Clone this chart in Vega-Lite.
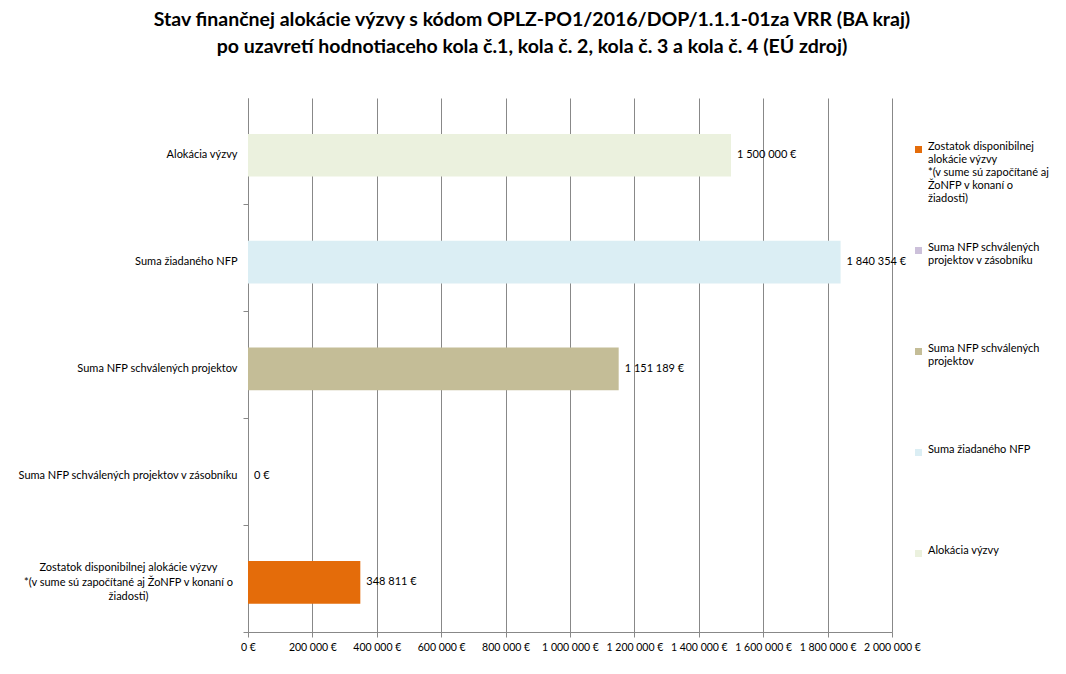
{
  "$schema": "https://vega.github.io/schema/vega-lite/v6.json",
  "autosize": {"type": "none"},
  "padding": {"left": 248, "top": 98, "right": 174, "bottom": 42},
  "width": 644,
  "height": 534,
  "background": "white",
  "title": {
    "text": ["Stav finančnej alokácie výzvy s kódom OPLZ-PO1/2016/DOP/1.1.1-01za VRR (BA kraj)", "po uzavretí hodnotiaceho kola č.1, kola č. 2, kola č. 3 a kola č. 4 (EÚ zdroj)"],
    "font": "Lato",
    "fontSize": 19.5,
    "fontWeight": "bold",
    "color": "#000000",
    "anchor": "middle",
    "dx": -38,
    "offset": 41,
    "lineHeight": 27
  },
  "data": {
    "values": [
      {"kategoria": "Alokácia výzvy", "hodnota": 1500000},
      {"kategoria": "Suma žiadaného NFP", "hodnota": 1840354},
      {"kategoria": "Suma NFP schválených projektov", "hodnota": 1151189},
      {"kategoria": "Suma NFP schválených projektov v zásobníku", "hodnota": 0},
      {"kategoria": "Zostatok disponibilnej alokácie výzvy *(v sume sú započítané aj ŽoNFP v konaní o žiadosti)", "hodnota": 348811}
    ]
  },
  "layer": [
    {
      "mark": {"type": "bar"},
      "encoding": {
        "y": {
          "field": "kategoria",
          "type": "nominal",
          "sort": null,
          "scale": {"paddingInner": 0.6, "paddingOuter": 0.3, "align": 0.56},
          "axis": {
            "title": null,
            "ticks": false,
            "tickSize": 0,
            "domain": true,
            "domainColor": "#888888",
            "labelFont": "Lato",
            "labelFontSize": 11,
            "labelColor": "#000000",
            "labelLimit": 400,
            "labelLineHeight": 14.5,
            "labelAlign": {"condition": {"test": "indexof(datum.value,'Zostatok')==0", "value": "center"}, "value": "right"},
            "labelPadding": {"condition": {"test": "indexof(datum.value,'Zostatok')==0", "value": 120}, "value": 11},
            "labelOffset": {"condition": {"test": "indexof(datum.value,'Zostatok')==0", "value": -14}, "value": 0},
            "labelExpr": "indexof(datum.label,'Zostatok')==0 ? ['Zostatok disponibilnej alokácie výzvy','*(v sume sú započítané aj ŽoNFP v konaní o','žiadosti)'] : datum.label"
          }
        },
        "x": {
          "field": "hodnota",
          "type": "quantitative",
          "scale": {"domain": [0, 2000000], "nice": false},
          "axis": {
            "title": null,
            "values": [0, 200000, 400000, 600000, 800000, 1000000, 1200000, 1400000, 1600000, 1800000, 2000000],
            "format": "$,.0f",
            "grid": true,
            "gridColor": "#888888",
            "domainColor": "#888888",
            "tickColor": "#888888",
            "tickSize": 5,
            "labelFont": "Lato",
            "labelFontSize": 10.5,
            "labelColor": "#000000",
            "labelPadding": 5,
            "labelFlush": false
          }
        },
        "color": {
          "field": "kategoria",
          "type": "nominal",
          "scale": {
            "domain": [
              "Zostatok disponibilnej alokácie výzvy *(v sume sú započítané aj ŽoNFP v konaní o žiadosti)",
              "Suma NFP schválených projektov v zásobníku",
              "Suma NFP schválených projektov",
              "Suma žiadaného NFP",
              "Alokácia výzvy"
            ],
            "range": ["#E46C0A", "#CCC0DA", "#C4BD97", "#DBEEF4", "#EBF1DE"]
          },
          "legend": {
            "orient": "none",
            "legendX": 665,
            "legendY": 46,
            "title": null,
            "padding": 0,
            "symbolType": "square",
            "symbolSize": 49,
            "symbolStrokeWidth": 0,
            "labelFont": "Lato",
            "labelFontSize": 11,
            "labelColor": "#000000",
            "labelBaseline": "alphabetic",
            "labelOffset": 4,
            "labelLimit": 250,
            "gridAlign": "all",
            "rowPadding": 37,
            "labelExpr": "indexof(datum.label,'Zostatok')==0 ? ['Zostatok disponibilnej','alokácie výzvy','*(v sume sú započítané aj','ŽoNFP v konaní o','žiadosti)'] : datum.label=='Suma NFP schválených projektov v zásobníku' ? ['Suma NFP schválených','projektov v zásobníku'] : datum.label=='Suma NFP schválených projektov' ? ['Suma NFP schválených','projektov'] : datum.label"
          }
        }
      }
    },
    {
      "mark": {"type": "text", "align": "left", "baseline": "middle", "dx": 6, "font": "Lato", "fontSize": 11, "color": "#000000"},
      "encoding": {
        "y": {
          "field": "kategoria",
          "type": "nominal",
          "sort": null,
          "axis": {
            "orient": "left",
            "title": null,
            "labels": false,
            "domain": false,
            "grid": false,
            "ticks": true,
            "tickSize": 5,
            "tickColor": "#888888",
            "bandPosition": 1.66
          }
        },
        "x": {"field": "hodnota", "type": "quantitative"},
        "text": {"field": "hodnota", "type": "quantitative", "format": "$,.0f"}
      }
    }
  ],
  "resolve": {"axis": {"y": "independent"}},
  "config": {
    "view": {"stroke": null},
    "locale": {"number": {"decimal": ",", "thousands": " ", "grouping": [3], "currency": ["", " €"]}}
  }
}
